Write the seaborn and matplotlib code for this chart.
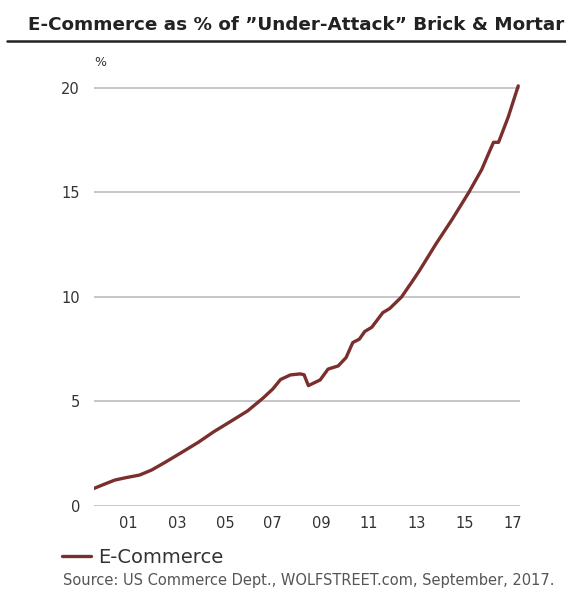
import matplotlib
matplotlib.use("Agg")
import matplotlib.pyplot as plt
import seaborn as sns
import pandas as pd

# E-commerce share of "under-attack" brick & mortar sales, %
years = [1999.55, 2000.0, 2000.42, 2000.9, 2001.45, 2001.95, 2002.5, 2003.2,
         2003.9, 2004.55, 2005.25, 2005.95, 2006.58, 2007.0, 2007.32, 2007.73,
         2008.14, 2008.3, 2008.48, 2008.97, 2009.3, 2009.72, 2010.05, 2010.33,
         2010.6, 2010.83, 2011.12, 2011.58, 2011.87, 2012.36, 2012.81, 2013.1,
         2013.8, 2014.46, 2015.16, 2015.7, 2015.98, 2016.19, 2016.4, 2016.8,
         2017.22]
share = [0.84, 1.05, 1.24, 1.36, 1.48, 1.72, 2.08, 2.56,
         3.05, 3.56, 4.05, 4.55, 5.15, 5.6, 6.05, 6.27,
         6.32, 6.28, 5.76, 6.03, 6.55, 6.7, 7.1, 7.82,
         7.98, 8.35, 8.55, 9.25, 9.45, 10.0, 10.75, 11.25,
         12.55, 13.7, 15.0, 16.1, 16.85, 17.4, 17.4, 18.6,
         20.1]
tick_years = [2001, 2003, 2005, 2007, 2009, 2011, 2013, 2015, 2017]
tick_labels = ["01", "03", "05", "07", "09", "11", "13", "15", "17"]
y_ticks = [0, 5, 10, 15, 20]

df = pd.DataFrame({"year": years, "share": share})

sns.set_theme(style="white")
plt.rcParams["font.family"] = ["DejaVu Sans"]

line_color = "#7b2f2c"
text_color = "#333333"

fig = plt.figure(figsize=(5.66, 5.92), dpi=100)
ax = fig.add_axes([0.166, 0.1453, 0.753, 0.7167])

sns.lineplot(data=df, x="year", y="share", ax=ax, color=line_color,
             linewidth=2.4, label="E-Commerce", legend=False)

ax.set_xlim(1999.55, 2017.3)
ax.set_ylim(0, 20.3)
ax.set_yticks(y_ticks)
ax.set_yticklabels([str(v) for v in y_ticks])
ax.set_xticks(tick_years)
ax.set_xticklabels(tick_labels)
ax.tick_params(axis="both", length=0, labelsize=10.5, colors=text_color)
ax.tick_params(axis="y", pad=10)
ax.tick_params(axis="x", pad=7)
for v in y_ticks:
    ax.axhline(v, color="#b8b8b8", linewidth=1.1, zorder=0)
ax.grid(False)
for s in ax.spines.values():
    s.set_visible(False)
ax.set_xlabel("")
ax.set_ylabel("")

ax.text(0.0, 1.03, "%", transform=ax.transAxes, ha="left", va="bottom",
        fontsize=9, color=text_color)

fig.text(0.05, 0.958, "E-Commerce as % of \u201dUnder-Attack\u201d Brick & Mortar",
         ha="left", va="center", fontsize=13.2, fontweight="bold", color="#222222")
fig.add_artist(plt.Line2D([0.012, 1.0], [0.930, 0.930], color="#222222",
                          linewidth=1.8, transform=fig.transFigure))

handles, labels = ax.get_legend_handles_labels()
fig.legend(handles, labels, loc="center left", bbox_to_anchor=(0.110, 0.059),
           frameon=False, fontsize=14, handlelength=1.5, handletextpad=0.35,
           labelcolor=text_color, borderaxespad=0, borderpad=0)

fig.text(0.111, 0.020, "Source: US Commerce Dept., WOLFSTREET.com, September, 2017.",
         ha="left", va="center", fontsize=10.5, color="#555555")

fig.savefig("out.png", dpi=100)
